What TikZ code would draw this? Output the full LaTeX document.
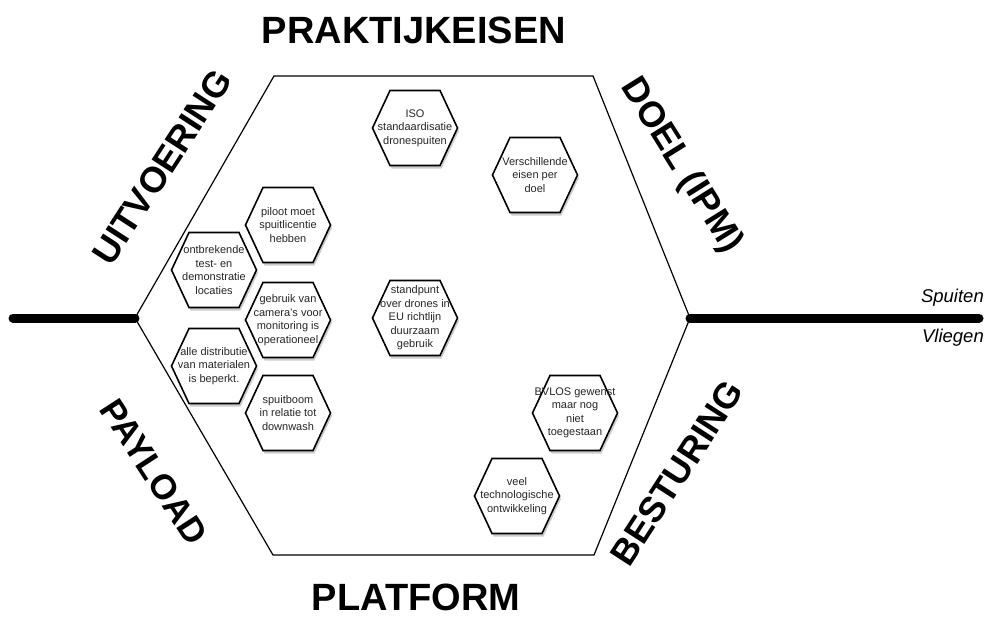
\documentclass[tikz,border=0pt]{standalone}
\usepackage{fontspec}
\setmainfont{Liberation Sans}
\usetikzlibrary{calc}
\tikzset{
  bighex/.style={draw=black, line width=1.2pt},
  axisline/.style={line width=9pt, line cap=round},
  hexshape/.style={draw=black, fill=white, line width=1.6pt, line join=miter},
  hexshadow/.style={fill=black, opacity=0.2},
  hextext/.style={align=center, inner sep=0pt, text=black!85, font=\fontsize{11}{13.5}\selectfont},
  biglabel/.style={font=\fontsize{38}{40}\selectfont\bfseries, inner sep=0pt},
  rotlabel/.style={font=\fontsize{36}{38}\selectfont\bfseries, inner sep=0pt},
  sidelabel/.style={font=\fontsize{18.5}{20}\selectfont\itshape, inner sep=0pt, anchor=east}
}
\newcommand\hexa[4]{%
  \begin{scope}[shift={(#2,#3)}]
    \fill[hexshadow] (-41,3) -- (-23.5,40.5) -- (26.5,40.5) -- (44,3) -- (26.5,-34.5) -- (-23.5,-34.5) -- cycle;
    \path[hexshape] (-42.5,0) -- (-25,37.5) -- (25,37.5) -- (42.5,0) -- (25,-37.5) -- (-25,-37.5) -- cycle;
    \node[hextext] (#1) at (0,0) {#4};
  \end{scope}}
\begin{document}
\begin{tikzpicture}[x=1pt, y=-1pt]
\useasboundingbox (0,0) rectangle (986,626);
% big hexagon
\coordinate (hl) at (135,318);
\coordinate (htl) at (274,76);
\coordinate (htr) at (593,76);
\coordinate (hr) at (690,318);
\coordinate (hbr) at (594,555);
\coordinate (hbl) at (273,555);
\draw[bighex] (hl) -- (htl) -- (htr) -- (hr) -- (hbr) -- (hbl) -- cycle;
% axis
\coordinate (lend) at (13,318);
\coordinate (rend) at (979,318);
\draw[axisline] (lend) -- (hl);
\draw[axisline] (hr) -- (rend);
% labels
\node[biglabel] (prak) at (414,30) {PRAKTIJKEISEN};
\node[biglabel] (plat) at (416,597) {PLATFORM};
\node[rotlabel, rotate=57] (uitv) at (162,167) {UITVOERING};
\node[rotlabel, rotate=-58] (doel) at (681,166) {DOEL (IPM)};
\node[rotlabel, rotate=-57, font=\fontsize{35}{37}\selectfont\bfseries] (payl) at (154,472) {PAYLOAD};
\node[rotlabel, rotate=57] (best) at (677,473) {BESTURING};
\node[sidelabel] (spuit) at (984,298) {Spuiten};
\node[sidelabel] (vlieg) at (984,338) {Vliegen};
% small hexagons
\hexa{iso}{415}{128}{ISO\\standaardisatie\\dronespuiten}
\hexa{versch}{535}{175}{Verschillende\\eisen per\\doel}
\hexa{standpunt}{415}{318}{standpunt\\over drones in\\EU richtlijn\\duurzaam\\gebruik}
\hexa{piloot}{288}{225}{piloot moet\\spuitlicentie\\hebben}
\hexa{ontbr}{214}{270}{ontbrekende\\test- en\\demonstratie\\locaties}
\hexa{gebruik}{288}{320}{gebruik van\\camera's voor\\monitoring is\\operationeel}
\hexa{alle}{214}{366}{alle distributie\\van materialen\\is beperkt.}
\hexa{spuitb}{288}{413}{spuitboom\\in relatie tot\\downwash}
\hexa{bvlos}{575}{413}{BVLOS gewenst\\maar nog\\niet\\toegestaan}
\hexa{veel}{517}{496}{veel\\technologische\\ontwikkeling}
\end{tikzpicture}
\end{document}
